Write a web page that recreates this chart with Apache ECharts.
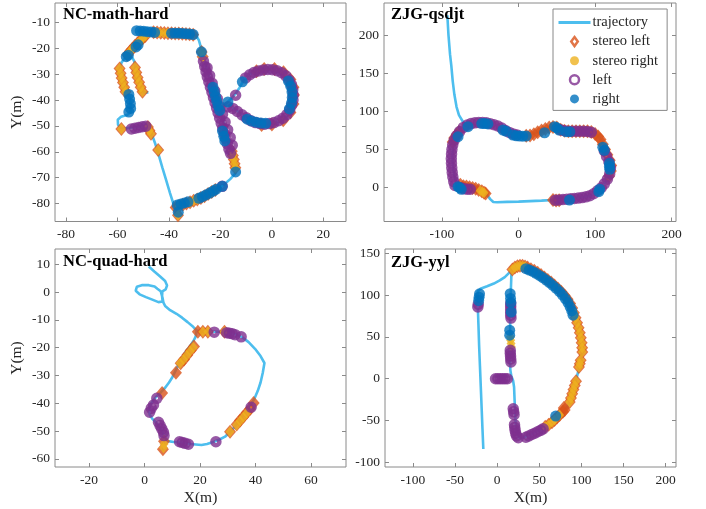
<!DOCTYPE html>
<html><head><meta charset="utf-8">
<script src="https://cdn.jsdelivr.net/npm/echarts@6/dist/echarts.min.js"></script>
<style>html,body{margin:0;padding:0;background:#fff}#c{width:706px;height:509px}</style>
</head><body><div id="c"></div>
<script>
// ---------- tick labels ----------
const p1XTicks = [-80,-60,-40,-20,0,20];
const p1YTicks = [-80,-70,-60,-50,-40,-30,-20,-10];
const p2XTicks = [-100,0,100,200];
const p2YTicks = [0,50,100,150,200];
const p3XTicks = [-20,0,20,40,60];
const p3YTicks = [-60,-50,-40,-30,-20,-10,0,10];
const p4XTicks = [-100,-50,0,50,100,150,200];
const p4YTicks = [-100,-50,0,50,100,150];
const panelTitles = ['NC-math-hard','ZJG-qsdjt','NC-quad-hard','ZJG-yyl'];
const seriesNames = ['trajectory','stereo left','stereo right','left','right'];

// ---------- Panel 1: NC-math-hard ----------
const p1TrajMain = [[-52.5,-13.2],[-48,-13.5],[-44,-13.8],[-40,-14.0],[-36,-14.1],[-32,-14.3],[-29.6,-14.8],[-28.4,-16.8],[-27.6,-19.5],[-26.9,-22.2],[-26.1,-25.2],[-25.1,-28.6],[-23.9,-32.2],[-22.6,-36.2],[-21.3,-40.2],[-20.1,-44.2],[-18.9,-48.2],[-17.7,-52.2],[-16.6,-56.2],[-15.6,-60],[-14.6,-63.6],[-13.9,-66.6],[-14.2,-68.4],[-16.2,-70.6],[-18.8,-72.9],[-21.8,-74.8],[-25.2,-76.6],[-29.2,-78.3],[-33.2,-79.7],[-36.6,-80.8],[-37.6,-82],[-36.8,-84.2]];
const p1TrajLeft = [[-38,-81],[-39.6,-76],[-41.1,-71],[-42.6,-66],[-44,-61.2],[-45.3,-57],[-46.4,-54],[-47.2,-51.6],[-48.4,-50],[-51,-50.2],[-54,-50.6],[-57,-50.9],[-58.6,-50.8],[-59.8,-49.6],[-59.9,-47.6],[-58.6,-46.4],[-56.4,-45.8],[-55,-44.8],[-54.8,-42.5],[-55.2,-39.5],[-56,-36.8],[-57,-33.6],[-58,-30.6],[-58.9,-27.8],[-58.5,-25.5],[-56.8,-23.3],[-55.5,-22],[-53.5,-20],[-51.5,-18],[-49.5,-16],[-48,-14.2]];
const p1TrajBranch = [[-56.5,-23.2],[-54.3,-23.4],[-53.5,-25],[-53,-27.5],[-52.3,-30.5],[-51.5,-33.5],[-50.6,-36],[-49.6,-37],[-48,-37]];
const p1TrajLoop = [[-18.6,-42],[-17.3,-40.8],[-15.8,-39.4],[-14.2,-37.6],[-12.6,-35.2],[-11.2,-32.8],[-9.6,-30.8],[-7.6,-29.3],[-5,-28.4],[-2,-28.1],[1,-28.4],[3.6,-29.4],[5.6,-31],[7.1,-33.4],[7.9,-36.4],[8.1,-39.8],[7.6,-43],[6.1,-45.9],[3.7,-47.9],[0.6,-49],[-2.8,-49.2],[-6,-48.6],[-9,-47.2],[-11.6,-45.6],[-14,-43.8],[-16.2,-42.6],[-18.6,-42]];
const p1StereoLeft = [[-46,-13.7],[-44.6,-13.8],[-43.2,-13.9],[-41.8,-14],[-40.4,-14.1],[-39,-14.1],[-37.6,-14.2],[-36.2,-14.2],[-34.8,-14.3],[-33.4,-14.4],[-32,-14.5],[-30.6,-14.7],
 [-56.2,-22.4],[-55.2,-21.2],[-54.2,-20.1],[-53.2,-19],[-52.2,-18],[-51.2,-17],[-50.2,-16],[-49.2,-15.2],
 [-59.2,-27.8],[-58.8,-29.6],[-58.4,-31.4],[-57.9,-33.2],[-57.4,-35],[-56.9,-36.8],
 [-53.2,-27.4],[-52.7,-29.3],[-52.2,-31.2],[-51.6,-33.1],[-51,-35],[-50.3,-36.8],
 [-58.5,-51.2],[-44.2,-59.3],[-48.2,-50.4],[-47.6,-51.8],[-47,-53],
 [-27.3,-21.4],[-26.9,-23.2],
 [-15.6,-59.8],[-15.2,-61.4],[-14.8,-63],[-14.5,-64.6],[-14.2,-66.2],
 [-37.4,-81.6],[-36,-81],[-34.6,-80.5],[-33.2,-80],[-31.8,-79.5],[-30.4,-79],[-29,-78.5],[-27.6,-77.9],[-26.2,-77.2],[-24.8,-76.4],[-23.4,-75.6],[-22,-74.8],[-36.5,-84.6],
 [8.6,-38],[8.4,-35],[7.2,-32],[4.5,-29.2],[1,-28],[-3,-28],[-6,-28.8],[8.4,-41.5],[7.2,-44.8],[4.4,-47.8],[0,-49.4],[-4,-49.6]];
const p1StereoRight = [[-45,-13.8],[-43.6,-13.9],[-42.2,-14],[-40.8,-14.1],
 [-56.2,-22.4],[-55.2,-21.2],[-54.2,-20.1],[-53.2,-19],[-52.2,-18],[-51.2,-17],[-50.2,-16],[-49.2,-15.2],
 [-59.2,-27.8],[-58.8,-29.6],[-58.4,-31.4],[-57.9,-33.2],[-57.4,-35],[-56.9,-36.8],
 [-53.2,-27.4],[-52.7,-29.3],[-52.2,-31.2],[-51.6,-33.1],[-51,-35],[-50.3,-36.8],
 [-58.5,-51.2],[-44.2,-59.3],[-48.2,-50.4],[-47.6,-51.8],[-47,-53],
 [-27.3,-21.4],[-26.9,-23.2],
 [-15.6,-59.8],[-15.2,-61.4],[-14.8,-63],[-14.5,-64.6],[-14.2,-66.2],
 [-36,-81],[-31.8,-79.5],[-30.4,-79],[-29,-78.5],[-23.4,-75.6],[-36.5,-84.6]];
const p1Left = [[-26.6,-25],[-26.1,-27],[-25.6,-29],[-25.1,-31],[-24.5,-33],[-23.9,-35],[-23.3,-37],[-22.7,-39],[-22.1,-41],[-21.5,-43],[-20.9,-45],[-20.3,-47],[-19.7,-49],[-19.1,-51],[-18.5,-53],[-17.9,-55],[-17.3,-57],[-16.7,-59],[-16.1,-60.6],
 [-25.2,-27.5],[-24.2,-30.5],[-23.2,-33.5],[-22.2,-36.5],[-21.2,-39.5],[-20.2,-42.5],[-19.2,-45.5],[-18.2,-48.5],[-17.2,-51.5],[-16.2,-54.5],[-15.4,-57.5],
 [-54.6,-51.2],[-53.2,-50.9],[-51.8,-50.6],[-50.4,-50.3],[-49,-50.1],
 [-17,-42.6],[-15.2,-43.2],[-13.4,-44.4],[-11.6,-45.7],[-10,-46.8],[-8.2,-48],[-6.4,-48.7],[-4.6,-49.1],[-2.8,-49.3],[-1,-49.1],[0.8,-48.7],[2.6,-48],[4.3,-47],[5.8,-45.6],[6.9,-43.9],[7.7,-42],[8.2,-40],[8.3,-38],[8.1,-36],[7.6,-34],[6.7,-32.2],[5.4,-30.6],[3.8,-29.4],[2,-28.6],[0.2,-28.2],[-1.6,-28.1],[-3.4,-28.3],[-5.2,-28.7],[-7,-29.3],[-8.6,-30.2],[-10.2,-31.4],
 [-14.1,-38.1],[-19.3,-73.4]];
const p1Right = [[-52.6,-13.1],[-51.2,-13.2],[-49.8,-13.3],[-48.4,-13.5],[-47,-13.6],[-45.6,-13.8],
 [-39,-14.1],[-37.6,-14.1],[-36.2,-14.1],[-34.8,-14.2],[-33.4,-14.3],[-32,-14.4],[-30.6,-14.6],
 [-27.4,-21.3],
 [-22.9,-35],[-22.4,-36.8],[-21.9,-38.6],[-21.4,-40.4],[-20.9,-42.2],[-20.3,-44],[-19.2,-52],[-18.7,-54],[-18.3,-55.8],
 [-14.1,-67.8],[-19.3,-73.4],
 [-36.8,-80.6],[-35.4,-80.2],[-34,-79.8],[-32.6,-79.4],[-28.4,-78],[-27,-77.4],[-25.6,-76.7],[-24.2,-76],[-22.8,-75.2],[-21.6,-74.5],
 [-36.4,-83.4],
 [-56.6,-23.2],[-55.8,-22.6],[-52.8,-19.4],[-52,-18.6],
 [-55.6,-37.8],[-55.3,-39.6],[-55,-41.4],[-54.9,-43.2],[-55.6,-44.6],
 [-17.1,-40.7],[-11.5,-32.9],
 [6.4,-32.6],[7.3,-34.6],[7.8,-36.8],[7.9,-39],[7.6,-41.2],[6.8,-43.4],
 [-9.6,-47.4],[-7.8,-48.1],[-6,-48.6],[-4.2,-48.9],[-2.4,-49]];

// ---------- Panel 2: ZJG-qsdjt ----------
const p2Traj = [[-93,226],[-91.5,200],[-89.5,175],[-87.8,160],[-86,140],[-83.8,122],[-81,106],[-77.8,95],[-73,87],[-68,82.5],[-60,84],[-52,85.5],[-44,85],[-36,83.5],[-28,81.5],[-20,77],[-12,72.5],[-4,69.5],[4,68.5],[12,68.8],[20,71],[28,74],[36,77.5],[44,79.5],[50,78.5],[56,75.5],[64,74],[72,74],[80,74],[88,74],[96,72.5],[103,69],[108,62],[112,53],[116,44],[120,35],[121.5,28],[120,20],[116,11],[111,4],[106,-2],[100,-7],[93,-10.5],[85,-12.5],[75,-13.8],[65,-14.6],[55,-15.4],[45,-16.2],[30,-17],[15,-17.6],[0,-18.2],[-15,-18.6],[-28,-19],[-33,-18.8],[-37,-15],[-40,-11],[-43,-6.5],[-48,-3.8],[-55,-2.5],[-62,-1.5],[-70,0],[-77,1.5],[-81,6],[-83.5,14],[-85.3,24],[-86.2,34],[-86.3,44],[-85.6,54],[-83.8,62],[-80.5,69],[-76,75.5],[-71,80],[-68,82.5]];
const p2StereoLeft = [[10,68],[15,68.5],[20,70],[25,72.5],[30,75],[35,77],[40,79],[45,79.5],[50,79],[55,76],[60,74.5],[65,74],[70,74],[75,74],[80,74],[85,74],[90,74],[95,73],[100,70.5],[104,67],
 [107,63],[110,57],[113,50],[116,43],[119,36],[121,29],[120.5,22],[118,15],
 [45,-16],[49,-16.8],[53,-16.3],
 [-86,60],[-84,65],[-81,69],[-78,73],
 [-76,4],[-72,2],[-68,1.5],[-64,0.5],[-60,-0.5],[-56,-1.5],[-52,-3],[-48,-4.5],[-45,-6.5],[-43,-7.5]];
const p2StereoRight = [[-50,-4],[-47,-5.5],[-45,-6.5]];
const p2Left = [[-84,62],[-81,68],[-77,73.5],[-72,79],[-67,82],[-62,84],[-57,85],[-52,85.5],[-47,85.5],[-42,85],[-37,83.8],[-32,82.5],[-27,80.8],[-22,78.2],[-17,75],[-12,72.4],[-7,70.5],[-2,69.2],
 [55,75.8],[60,74.6],[65,74],[70,74],[75,74],[80,74],[85,74],[90,73.6],[95,72.6],
 [112,48],[115,41],[118,34],[120,26],[119,18],[116,11],[112,5],[108,0],[103,-4],[98,-8],[93,-10.5],[88,-12],[83,-13],[78,-13.6],[73,-14],[68,-14.5],[63,-15],[58,-15.5],[53,-16],[48,-16.4],
 [-86,56],[-87,50],[-87.5,44],[-87.8,38],[-87.6,32],[-87.2,26],[-86.6,20],[-85.8,14],[-84.6,8],[-83,3],
 [-75,0],[-71,-1.5],[-67,-2],[-63,-2]];
const p2Right = [[-79,66.8],[-66,80],[-48,84],[-44,84],[-40,83.6],[-20.4,75.5],[-16,73.8],[-7.4,69],[-3,68],[1.3,67.7],[5.5,67.5],[10,67.7],[34,72],[47,80],[50,78.5],[53,75.5],[62,73.4],[67,73.4],[110,53],[112,49],[118.7,32],[118.7,28],[119,24],[106,-2],[104.8,-5.2],[66.5,-16.2],[-79,1.3],[-77,0],[-74.8,-2.2]];

// ---------- Panel 3: NC-quad-hard ----------
const p3Traj = [[1.5,9.2],[3.5,7.4],[5.6,5.6],[7.4,4],[8.1,2.4],[7.6,1],[6.4,0.3],[6.3,-1.5],[6.5,-3.4],[5,-3.6],[3,-2.8],[0.5,-1.8],[-1.8,-0.8],[-3.2,0.5],[-2.8,1.9],[-1,2.5],[1.5,2.5],[3.6,2],[4.6,1.2],[5.8,0.3],[6.4,-1.8],[6.8,-3.8],[7.4,-5],[9.2,-6.5],[11.5,-7.8],[13.5,-9.2],[15.5,-10.8],[17.5,-12.5],[18.8,-13.8],[20.5,-14.2],[23,-14.2],[26,-14.2],[29,-14.4],[32,-14.9],[35,-16.1],[37.5,-18],[39.8,-20.4],[41.8,-23],[43.2,-25.5],[42.6,-29],[41.8,-32.5],[40.8,-35.5],[39.5,-38.5],[38,-41],[36.5,-43],[35,-45],[33.5,-47],[32,-49],[30.5,-50.6],[29,-52],[27,-53],[25,-53.8],[22.5,-54.6],[20.5,-55],[18.5,-54.8],[16.5,-54.6],[14.5,-54.3],[12.5,-54],[10.5,-53.9],[8.5,-53.6],[7,-52.6]];
const p3TrajLeft = [[18.8,-13.8],[18.4,-16],[17.6,-17.6],[16.4,-19.4],[15,-21.2],[13.8,-23],[12.8,-24.8],[11.9,-26.7],[11,-28.6],[10,-30.6],[8.8,-32.5],[7.4,-34.4],[5.9,-36],[4.4,-37.4],[3.2,-38.8],[2.2,-40.4],[1.6,-42.2],[1.8,-44],[2.8,-45.6],[4.2,-47],[5.4,-48.4],[6.4,-50],[7,-51.8],[7,-53.6],[6.8,-55.4],[6.6,-57]];
const p3StereoLeft = [[19.2,-14.3],[11.3,-29],[6.3,-36.3],[39.3,-39.9],[7,-53.6],[6.6,-56.5],
 [21,-14.3],[22.8,-14.3],[28.8,-14.3],[17.8,-19.6],[16.6,-21],[15.4,-22.6],[14.2,-24.2],[13,-25.6],
 [30.8,-50.2],[33.2,-47.6],[34.4,-46.2],[35.6,-44.8],[36.8,-43.4],[38,-42]];
const p3StereoRight = [[21,-14.3],[22.8,-14.3],[28.8,-14.3],[17.6,-19.8],[16.4,-21.3],[15.2,-22.8],[14,-24.3],[12.8,-25.6],[30.8,-50.2],[33.2,-47.8],[34.4,-46.4],[35.6,-45],[36.8,-43.6],[7,-54.6],[6.8,-56]];
const p3Left = [[25.1,-14.4],[29.6,-14.6],[30.6,-14.8],[31.6,-15],[32.6,-15.3],[34.8,-16.1],[4.4,-38.2],[3.2,-40.6],[2.4,-41.8],[1.8,-43.2],[5,-46.8],[5.6,-48],[6.2,-49.2],[6.8,-50.4],[7,-51.6],[12.6,-53.8],[13.6,-54.1],[14.6,-54.4],[15.8,-54.7],[25.7,-53.8],[38.4,-41.4]];
const p3Right = [];

// ---------- Panel 4: ZJG-yyl ----------
const p4TrajLeft = [[-16.5,-84],[-17.5,-60],[-18.5,-35],[-19.5,-10],[-20.5,15],[-21.5,40],[-22.3,65],[-23,85],[-23.4,100],[-23.2,104],[-20,107.5],[-12,110.5],[-4,113.8],[3,117.5],[9,121.5],[13.5,126],[17,129.5]];
const p4TrajMid = [[17,129.5],[16.5,115],[16,100],[15.6,80],[15.3,60],[15.2,40],[15.3,20],[15.6,10],[16.8,3],[18.8,-2],[20,-10],[20.6,-25],[21.2,-40],[22,-55],[23.2,-65],[25.5,-70],[28,-71]];
const p4TrajArc = [[17,129.5],[21,133],[26,135],[32,134.5],[38,132],[46,128],[54,122.5],[62,116.5],[70,110],[77,103],[83,95],[88,86],[92,76],[96,64],[99,52],[100.5,42],[101,34],[100.5,26],[99,19],[97,12],[95,4],[92.5,-5],[90,-14],[87,-24],[84,-32],[80,-38],[75,-43.5],[70,-48.5],[64,-53],[58,-57],[51,-61],[44,-64.5],[37,-68],[31,-70.5],[28,-71]];
const p4StereoLeft = [[18,130.5],[21,133],[24,134.5],[27,135.2],[30,135],[33,134.2],[36,133],[40,131],[44,129],[48,126.6],[52,124],[56,121],[60,118],[64,115],[68,111.6],[72,108],[76,104],[80,99.6],[83.5,95],[86.5,90],[89,84.5],[91,79],[93,73],[94.8,67],[96.6,61],[98,55],[99.2,49],[100.2,43],[100.8,37],[101,32],
 [99,22],[98,18],[97,14],[93.5,-3],[92,-8],[90.5,-13],[89,-18],[87.5,-23],[86,-28],[80,-37.5],[78,-39.5],[79,-35],
 [74,-43.5],[71,-46.5],[68,-49.5],[65,-52],[61,-55],[57,-57.5]];
const p4StereoRight = [[18,130.5],[21,133],[24,134.5],[27,135.2],[30,135],[33,134.2],[91,79],[93,73],[94.8,67],[96.6,61],[98,55],[99.2,49],[100.2,43],[100.8,37],[101,32],
 [99,22],[98,18],[97,14],[93.5,-3],[92,-8],[90.5,-13],[89,-18],[87.5,-23],[86,-28],
 [74,-43.5],[68,-49.5],[65,-52],[61,-55],[57,-57.5],
 [15.6,50],[16,46],[16.4,42],[16.8,38]];
const p4Left = [[-23,85.7],[-22.5,89],[16,90],[16,86.5],[16,83],[16,79.5],[16,76],[16.3,72.5],[15.5,34],[15.5,30.5],[15.8,27],[16,23.5],[16.3,20],[-2,0],[0.8,0],[3.6,0],[6.4,0],[9.2,0],[12,0],[19,-36],[19.5,-39.5],[20,-43],[20.5,-55],[20.8,-58.5],[21.3,-62],[22,-65.5],[23,-68.5],[25,-70.5],[34,-70],[37.5,-68.4],[41,-66.8],[44.5,-65.2],[48,-63.5],[51.5,-61.8],[54.5,-60]];
const p4Right = [[-21,101.5],[-21.5,97.5],[-22,93.5],[15.4,101.7],[15.8,96],[16.2,91],[16.6,79.7],[14.8,58],[14.8,52],[69.4,-44.7],
 [34,131.5],[38,130],[42,128.3],[46,126],[50,123.5],[54,121],[58,118],[62,115],[66,111.5],[70,108],[74,104],[77.5,100],[81,95.5],[84,91],[86.5,86],[88.5,81],[90,76]];

// ---------- layout ----------
const grids = [
  {left:55, top:3, width:291, height:218.5},
  {left:384, top:3, width:292, height:218.5},
  {left:55, top:249, width:291, height:218},
  {left:385, top:249, width:291, height:218}
];
const ranges = [
  {x:[-84.3,28.8], y:[-87.0,-2.4], xt:p1XTicks, yt:p1YTicks, xn:'', yn:'Y(m)'},
  {x:[-175.7,205.6], y:[-44.3,242], xt:p2XTicks, yt:p2YTicks, xn:'', yn:''},
  {x:[-32.3,72.6], y:[-62.9,15.5], xt:p3XTicks, yt:p3YTicks, xn:'X(m)', yn:'Y(m)'},
  {x:[-133.2,212.2], y:[-105.6,155.1], xt:p4XTicks, yt:p4YTicks, xn:'X(m)', yn:''}
];
const panels = [
  {traj:[p1TrajMain,p1TrajLeft,p1TrajBranch,p1TrajLoop], sl:p1StereoLeft, sr:p1StereoRight, l:p1Left, r:p1Right},
  {traj:[p2Traj], sl:p2StereoLeft, sr:p2StereoRight, l:p2Left, r:p2Right},
  {traj:[p3Traj,p3TrajLeft], sl:p3StereoLeft, sr:p3StereoRight, l:p3Left, r:p3Right},
  {traj:[p4TrajLeft,p4TrajMid,p4TrajArc], sl:p4StereoLeft, sr:p4StereoRight, l:p4Left, r:p4Right}
];

const FONT = 'Liberation Serif';
const FRAME = '#8a8a8a';
const xAxes = [], yAxes = [], series = [];
ranges.forEach((r,i)=>{
  const tick = (vals)=>({show:true, inside:true, length:4, lineStyle:{color:FRAME}, customValues:vals});
  const line = {show:false, onZero:false};
  xAxes.push({type:'value', gridIndex:i, min:r.x[0], max:r.x[1], position:'bottom',
    axisLine:line, splitLine:{show:false}, axisTick:tick(r.xt),
    axisLabel:{customValues:r.xt, fontFamily:FONT, fontSize:13.5, color:'#262626', margin:6},
    name:r.xn, nameLocation:'middle', nameGap:23, nameTextStyle:{fontFamily:FONT, fontSize:15.5, color:'#262626'}});
  xAxes.push({type:'value', gridIndex:i, min:r.x[0], max:r.x[1], position:'top',
    axisLine:line, splitLine:{show:false}, axisTick:tick(r.xt), axisLabel:{show:false}});
  yAxes.push({type:'value', gridIndex:i, min:r.y[0], max:r.y[1], position:'left',
    axisLine:line, splitLine:{show:false}, axisTick:tick(r.yt),
    axisLabel:{customValues:r.yt, fontFamily:FONT, fontSize:13.5, color:'#262626', margin:5},
    name:r.yn, nameLocation:'middle', nameGap:30, nameRotate:90, nameTextStyle:{fontFamily:FONT, fontSize:15.5, color:'#262626'}});
  yAxes.push({type:'value', gridIndex:i, min:r.y[0], max:r.y[1], position:'right',
    axisLine:line, splitLine:{show:false}, axisTick:tick(r.yt), axisLabel:{show:false}});
});
panels.forEach((p,i)=>{
  const xi = i*2, yi = i*2;
  p.traj.forEach(seg=>series.push({name:'trajectory', type:'line', xAxisIndex:xi, yAxisIndex:yi, data:seg,
    symbol:'none', lineStyle:{color:'#4DBEEE', width:2.6}, itemStyle:{color:'#4DBEEE'}, z:1, silent:true}));
  series.push({name:'stereo left', type:'scatter', xAxisIndex:xi, yAxisIndex:yi, data:p.sl,
    symbol:'diamond', symbolSize:[12,14], itemStyle:{color:'#D95319'}, z:2, silent:true});
  series.push({name:'stereo right', type:'scatter', xAxisIndex:xi, yAxisIndex:yi, data:p.sr,
    symbol:'diamond', symbolSize:[9,11], itemStyle:{color:'#EDB120'}, z:3, silent:true});
  series.push({name:'left', type:'scatter', xAxisIndex:xi, yAxisIndex:yi, data:p.l,
    symbol:'circle', symbolSize:7, itemStyle:{color:'rgba(255,255,255,0)', borderColor:'#7E2F8E', borderWidth:4.5}, z:4, silent:true});
  series.push({name:'right', type:'scatter', xAxisIndex:xi, yAxisIndex:yi, data:p.r,
    symbol:'circle', symbolSize:11, itemStyle:{color:'#0072BD'}, z:5, silent:true});
});

const titlePos = [[63,6],[391,6],[63,253],[391,254]];
const option = {
  animation:false,
  backgroundColor:'#fff',
  title: panelTitles.map((t,i)=>({text:t, left:titlePos[i][0], top:titlePos[i][1], padding:0,
    textStyle:{fontFamily:FONT, fontWeight:'bold', fontSize:16.5, color:'#000'}})),
  grid: grids.map(g=>Object.assign({show:true, borderColor:FRAME, borderWidth:1, backgroundColor:'#fff'}, g)),
  xAxis:xAxes, yAxis:yAxes,
  legend:{
    orient:'vertical', left:553, top:9, padding:[6,9,4,4], itemGap:4.1,
    itemWidth:32, itemHeight:9, selectedMode:false, z:20, symbolKeepAspect:true,
    backgroundColor:'#fff', borderColor:'#888', borderWidth:1, borderRadius:0,
    textStyle:{fontFamily:FONT, fontSize:14.5, color:'#262626', lineHeight:14, padding:[0,0,0,-3]},
    data:[
      {name:seriesNames[0], itemStyle:{opacity:0}, lineStyle:{width:3}},
      {name:seriesNames[1], icon:'path://M4,0L8,5.5L4,11L0,5.5Z', itemStyle:{color:'#fff', borderColor:'#D95319', borderWidth:2.5}},
      {name:seriesNames[2], icon:'circle', itemStyle:{color:'#EDB120', borderWidth:0}},
      {name:seriesNames[3], icon:'circle', itemStyle:{color:'#fff', borderColor:'#7E2F8E', borderWidth:2.5}},
      {name:seriesNames[4], icon:'circle', itemStyle:{color:'#0072BD', borderWidth:0}}
    ]
  },
  series:series
};
const chart = echarts.init(document.getElementById('c'), null, {renderer:'canvas'});
chart.setOption(option);
</script></body></html>
